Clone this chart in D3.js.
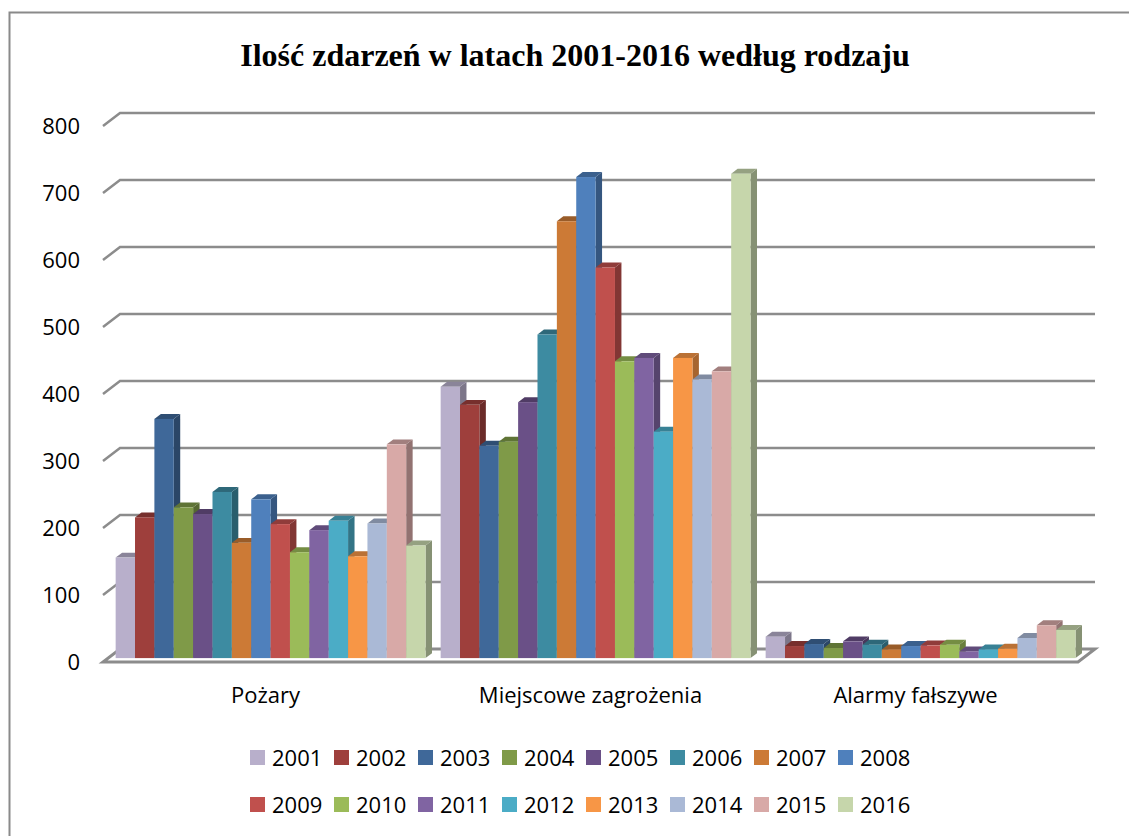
<!DOCTYPE html>
<html>
<head>
<meta charset="utf-8">
<script src="https://cdn.jsdelivr.net/npm/d3@7"></script>
<style>
  body { margin: 0; background: #fff; }
  svg { display: block; }
</style>
</head>
<body>
<div id="chartDiv"></div>
<script>
var categories = ['Pożary', 'Miejscowe zagrożenia', 'Alarmy fałszywe'];
var years = ['2001', '2002', '2003', '2004', '2005', '2006', '2007', '2008',
             '2009', '2010', '2011', '2012', '2013', '2014', '2015', '2016'];
var pozary     = [150, 210, 357, 225, 215, 248, 172, 237, 200, 158, 191, 205, 152, 201, 319, 168];
var miejscowe  = [405, 378, 317, 323, 382, 483, 652, 718, 583, 443, 448, 338, 448, 416, 428, 723];
var alarmy     = [32, 18, 21, 15, 25, 20, 13, 18, 19, 20, 10, 13, 14, 30, 49, 42];
var colors = ['#b8afcb', '#9e3f3c', '#3f6899', '#7f9a48', '#6a5087', '#3d8ba1', '#cc7a36', '#4f80bc',
              '#c0504d', '#9bbb59', '#8064a2', '#4bacc6', '#f79646', '#aab9d6', '#d8a9a7', '#c6d6ab'];
var yTicks = [0, 100, 200, 300, 400, 500, 600, 700, 800];
var chartTitle = 'Ilość zdarzeń w latach 2001-2016 według rodzaju';

var series = [pozary, miejscowe, alarmy];

var swidth = 1129, sheight = 836;
var svg = d3.select('#chartDiv')
    .append('svg')
    .attr('width', swidth)
    .attr('height', sheight);

// chart frame
svg.append('rect')
    .attr('x', 9.5).attr('y', 12.5)
    .attr('width', 1140).attr('height', 900)
    .attr('fill', 'none')
    .attr('stroke', '#8a8a8a')
    .attr('stroke-width', 2);

svg.append('text')
    .attr('x', 575).attr('y', 66)
    .attr('text-anchor', 'middle')
    .style('font-family', '"Liberation Serif", "Times New Roman", serif')
    .style('font-weight', 'bold')
    .style('font-size', '32px')
    .text(chartTitle);

// front plane scales, depth goes up-right
var depthX = 17, depthY = -13;
var y = d3.scaleLinear().domain([0, 800]).range([662, 126]);
var x0 = d3.scaleBand().domain(categories).range([103, 1078]);
var x1 = d3.scaleBand().domain(years).range([0, x0.bandwidth()])
    .paddingInner(0).paddingOuter(0.39);

var grid = svg.append('g');
grid.selectAll('path.grid')
    .data(yTicks.slice(1))
    .enter().append('path')
    .attr('class', 'grid')
    .attr('fill', 'none')
    .attr('stroke', '#8c8c8c')
    .attr('stroke-width', 2.5)
    .attr('d', function(v) {
        var yy = y(v);
        return 'M103,' + yy + 'L' + (103 + depthX) + ',' + (yy + depthY) + 'L' + (1078 + depthX) + ',' + (yy + depthY);
    });

// floor
grid.append('path')
    .attr('fill', '#fff')
    .attr('stroke', '#8c8c8c')
    .attr('stroke-width', 3)
    .attr('stroke-linejoin', 'miter')
    .attr('d', 'M103,' + y(0) + 'L1078,' + y(0) + 'L' + (1078 + depthX) + ',' + (y(0) + depthY) +
        'L' + (103 + depthX) + ',' + (y(0) + depthY) + 'Z');

// tick labels
svg.append('g').selectAll('text')
    .data(yTicks)
    .enter().append('text')
    .attr('x', 80)
    .attr('y', function(v) { return y(v); })
    .attr('dy', '0.35em')
    .attr('text-anchor', 'end')
    .style('font-family', '"Open Sans", sans-serif')
    .style('font-size', '22px')
    .text(function(v) { return v; });

// bars, painted left to right so each front covers the previous side
var bf = 0.3, bb = 0.68;
var bars = svg.append('g');
categories.forEach(function(cat, ci) {
    series[ci].forEach(function(val, i) {
        var col = d3.color(colors[i]);
        var left = x0(cat) + x1(years[i]) + depthX * bf;
        var right = left + x1.bandwidth();
        var base = y(0) + depthY * bf;
        var top = base - (y(0) - y(val));
        var ddx = depthX * (bb - bf), ddy = depthY * (bb - bf);
        var g = bars.append('g');
        g.append('path')
            .attr('fill', col.darker(1.1))
            .attr('d', 'M' + right + ',' + base + 'L' + (right + ddx) + ',' + (base + ddy) +
                'L' + (right + ddx) + ',' + (top + ddy) + 'L' + right + ',' + top + 'Z');
        g.append('path')
            .attr('fill', col.darker(0.8))
            .attr('d', 'M' + left + ',' + top + 'L' + (left + ddx) + ',' + (top + ddy) +
                'L' + (right + ddx) + ',' + (top + ddy) + 'L' + right + ',' + top + 'Z');
        g.append('rect')
            .attr('x', left).attr('y', top)
            .attr('width', x1.bandwidth())
            .attr('height', base - top)
            .attr('fill', col);
    });
});

// category labels
svg.append('g').selectAll('text')
    .data(categories)
    .enter().append('text')
    .attr('x', function(d) { return x0(d) + x0.bandwidth() / 2; })
    .attr('y', 703)
    .attr('text-anchor', 'middle')
    .style('font-family', '"Open Sans", sans-serif')
    .style('font-size', '22px')
    .text(function(d) { return d; });

// legend, two rows of eight
var legend = svg.append('g').selectAll('g')
    .data(years)
    .enter().append('g')
    .attr('transform', function(d, i) {
        return 'translate(' + (250 + (i % 8) * 84) + ',' + (i < 8 ? 758 : 805) + ')';
    });
legend.append('rect')
    .attr('x', 0).attr('y', -8)
    .attr('width', 15).attr('height', 15)
    .attr('fill', function(d, i) { return colors[i]; });
legend.append('text')
    .attr('x', 22).attr('y', 0)
    .attr('dy', '0.35em')
    .style('font-family', '"Open Sans", sans-serif')
    .style('font-size', '22px')
    .text(function(d) { return d; });
</script>
</body>
</html>
